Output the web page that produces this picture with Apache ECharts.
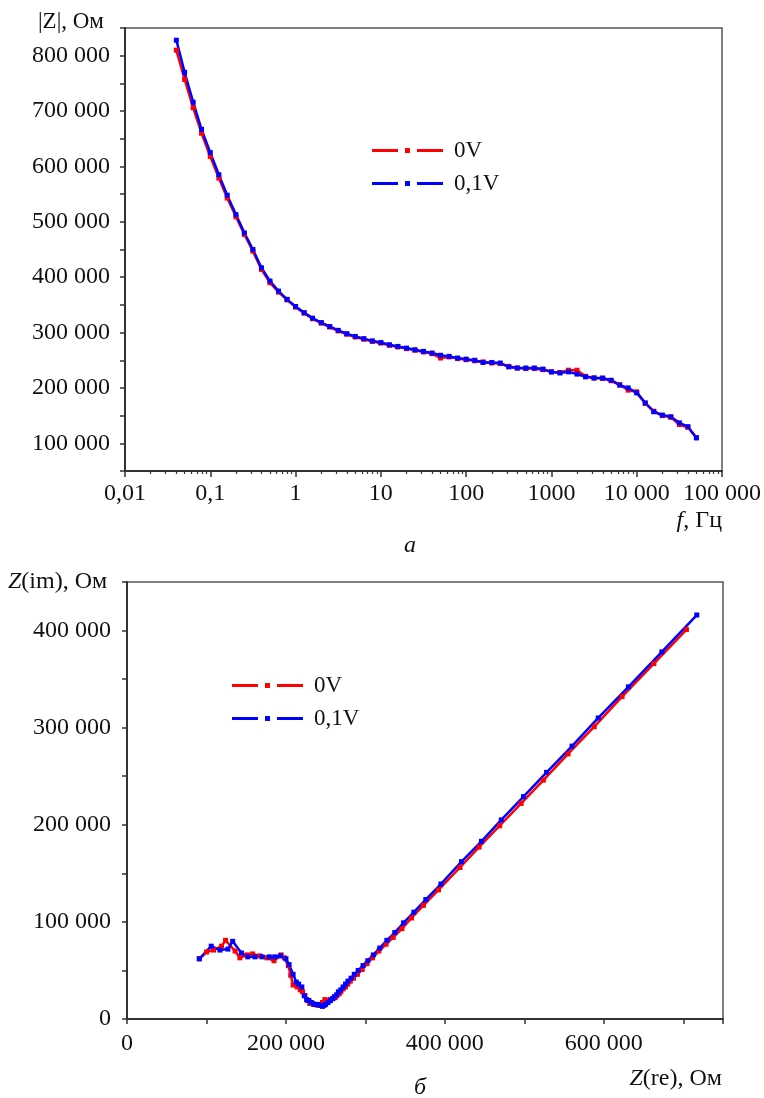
<!DOCTYPE html>
<html><head><meta charset="utf-8">
<script src="https://cdn.jsdelivr.net/npm/echarts@6/dist/echarts.min.js"></script>
<style>html,body{margin:0;padding:0;background:#fff}#c{width:764px;height:1098px}</style>
</head><body><div id="c"></div>
<script>
// ---- Chart (a): |Z| vs frequency (Hz), values in kOhm ----
const freqHz = [0.04,0.05,0.063,0.079,0.1,0.126,0.158,0.2,0.251,0.316,0.398,0.501,0.631,0.794,
  1,1.26,1.58,2,2.51,3.16,3.98,5.01,6.31,7.94,
  10,12.6,15.8,20,25.1,31.6,39.8,50.1,63.1,79.4,
  100,126,158,200,251,316,398,501,631,794,
  1000,1259,1585,1995,2512,3162,3981,5012,6310,7943,
  10000,12589,15849,19953,25119,31623,39811,50119];
const absZ_0V = [810,757,706,660,618,579,543,509,477,447,414,390,373,359,
  346,335,325,317,310,303,297,292,288,284,
  281,277,274,271,268,265,262,254,256,253,
  251,249,247,245,244,239,236,235,235,233,
  229,228,232,232,221,218,217,213,206,196,
  193,172,158,150,147,134,129,110];
const absZ_01V = [828,770,716,667,625,585,548,513,480,450,417,393,375,360,
  347,336,326,318,311,304,298,293,289,285,
  282,278,275,272,269,266,263,259,257,254,
  252,250,246,246,245,238,236,236,236,234,
  229,227,229,225,220,218,218,214,205,200,
  191,173,157,151,148,137,130,110];
// ---- Chart (б): Nyquist, values in kOhm ----
const zRe_0V = [704,663,623,588,555,524,496,469,443,419,392,373,358,346,
  335,326,317,309,302,296,290,285,281,278,
  275,272,269,267,264,262,259,256,252,249,
  246,243,240,237,234,230,227,224,221,218,
  214,209,206,203,198,194,185,176,167,158,
  151,142,136,124,119,109,100,91];
const zIm_0V = [401,366,332,301,273,246,222,199,177,156,133,117,104,93,
  84,77,70,63,57,51,46,42,39,36,
  33,31,28,26,24,22,21,20,19,20,
  17,15,14,15,16,16,19,24,28,30,
  33,35,45,55,63,66,60,63,65,67,
  66,63,70,81,75,71,69,62];
const zRe_01V = [717,673,631,593,560,528,499,471,446,421,395,376,361,348,
  337,327,318,310,303,297,291,286,282,278,
  275,272,269,266,264,261,259,256,253,250,
  248,246,243,240,238,235,232,229,226,223,
  220,216,213,209,204,200,193,186,179,170,
  161,152,144,133,127,117,106,91];
const zIm_01V = [416,378,342,310,281,254,229,205,183,162,139,123,110,99,
  89,81,73,66,60,55,50,46,42,39,
  36,33,30,28,25,23,21,19,17,15,
  14,13,14,15,15,15,17,19,20,24,
  33,36,38,46,56,62,65,64,64,64,
  64,64,68,80,72,71,75,62];
// tick labels
const freqTickLabels = ['0,01','0,1','1','10','100','1000','10 000','100 000'];
const seriesNames = ['0V','0,1V'];
const K = 1000;

const FONT = '"Liberation Serif", "Times New Roman", serif';
const RED = '#ff0000', BLUE = '#0000ff';
const FS = 24;
const fmtSpace = v => v === 0 ? '0' : String(v).replace(/\B(?=(\d{3})+(?!\d))/g, ' ');

// minor ticks of the log axis (positions in decades)
const minorLogTicks = [];
for (let d = -2; d < 5; d++) for (let m = 2; m <= 9; m++) minorLogTicks.push(d + Math.log10(m));

const dashDot = 'path://M0,1h26v3H0z M33,0h5v5h-5z M45,1h26v3h-26z';
const axisLineStyle = { color: '#333', width: 2 };
const labelStyle = { fontFamily: FONT, fontSize: FS, color: '#111' };
const legendText = { fontFamily: FONT, fontSize: 23, color: '#111', padding: [0, 0, 0, 6] };

const chart = echarts.init(document.getElementById('c'), null, { renderer: 'canvas' });
chart.setOption({
  animation: false,
  backgroundColor: '#fff',
  grid: [
    { left: 125, right: 40, top: 28, bottom: 627, show: true, borderColor: '#555', borderWidth: 1.5, backgroundColor: 'transparent' },
    { left: 127, right: 41, top: 582, bottom: 79, show: true, borderColor: '#555', borderWidth: 1.5, backgroundColor: 'transparent' }
  ],
  legend: [
    { left: 372, top: 139, padding: 0, orient: 'vertical', itemWidth: 71, itemHeight: 5, itemGap: 10, icon: dashDot,
      textStyle: legendText, data: seriesNames },
    { left: 232, top: 674, padding: 0, orient: 'vertical', itemWidth: 71, itemHeight: 5, itemGap: 10, icon: dashDot,
      textStyle: legendText, data: seriesNames }
  ],
  xAxis: [
    { gridIndex: 0, type: 'log', logBase: 10, min: 0.01, max: 100000, position: 'bottom',
      axisLine: { onZero: false, lineStyle: axisLineStyle }, axisTick: { length: 6, lineStyle: { color: '#333', width: 1.5 } },
      splitLine: { show: false },
      axisLabel: Object.assign({ margin: 11, formatter: v => freqTickLabels[Math.round(Math.log10(v)) + 2] }, labelStyle) },
    { gridIndex: 0, type: 'value', min: -2, max: 5, position: 'bottom', offset: 0,
      axisLine: { show: false, onZero: false }, axisLabel: { show: false }, splitLine: { show: false },
      axisTick: { show: true, customValues: minorLogTicks, length: 3, lineStyle: { color: '#333', width: 1.2 } } },
    { gridIndex: 1, type: 'value', min: 0, max: 750000, interval: 100000, position: 'bottom',
      axisLine: { onZero: false, lineStyle: axisLineStyle }, axisTick: { length: 5, lineStyle: { color: '#333', width: 1.5 } },
      splitLine: { show: false },
      axisLabel: Object.assign({ margin: 13, formatter: v => (v % 200000 === 0 ? fmtSpace(v) : '') }, labelStyle) }
  ],
  yAxis: [
    { gridIndex: 0, type: 'value', min: 50000, max: 850000, interval: 50000,
      axisLine: { onZero: false, lineStyle: axisLineStyle }, axisTick: { length: 5, lineStyle: { color: '#333', width: 1.5 } },
      splitLine: { show: false },
      axisLabel: Object.assign({ margin: 15, formatter: v => (v % 100000 === 0 ? fmtSpace(v) : '') }, labelStyle) },
    { gridIndex: 1, type: 'value', min: 0, max: 450000, interval: 50000,
      axisLine: { onZero: false, lineStyle: axisLineStyle }, axisTick: { length: 5, lineStyle: { color: '#333', width: 1.5 } },
      splitLine: { show: false },
      axisLabel: Object.assign({ margin: 16, formatter: v => (v % 100000 === 0 ? fmtSpace(v) : '') }, labelStyle) }
  ],
  series: [
    { name: '0V', type: 'line', xAxisIndex: 0, yAxisIndex: 0, symbol: 'rect', symbolSize: 5,
      lineStyle: { color: RED, width: 2.5 }, itemStyle: { color: RED },
      data: freqHz.map((f, i) => [f, absZ_0V[i] * K]) },
    { name: '0,1V', type: 'line', xAxisIndex: 0, yAxisIndex: 0, symbol: 'rect', symbolSize: 5,
      lineStyle: { color: BLUE, width: 2.5 }, itemStyle: { color: BLUE },
      data: freqHz.map((f, i) => [f, absZ_01V[i] * K]) },
    { name: '0V', type: 'line', xAxisIndex: 2, yAxisIndex: 1, symbol: 'rect', symbolSize: 5,
      lineStyle: { color: RED, width: 2.5 }, itemStyle: { color: RED },
      data: zRe_0V.map((r, i) => [r * K, zIm_0V[i] * K]) },
    { name: '0,1V', type: 'line', xAxisIndex: 2, yAxisIndex: 1, symbol: 'rect', symbolSize: 5,
      lineStyle: { color: BLUE, width: 2.5 }, itemStyle: { color: BLUE },
      data: zRe_01V.map((r, i) => [r * K, zIm_01V[i] * K]) }
  ],
  graphic: [
    { type: 'text', x: 38, y: 22, style: { text: '|Z|, Ом', fontFamily: FONT, fontSize: 23, fill: '#111', verticalAlign: 'middle' } },
    { type: 'text', x: 722, y: 521, style: { text: '{i|f}, Гц', fontFamily: FONT, fontSize: FS, fill: '#111', align: 'right', verticalAlign: 'middle',
      rich: { i: { fontStyle: 'italic', fontFamily: FONT, fontSize: FS, fill: '#111' } } } },
    { type: 'text', x: 410, y: 546, style: { text: 'а', fontFamily: FONT, fontSize: FS, fontStyle: 'italic', fill: '#111', align: 'center', verticalAlign: 'middle' } },
    { type: 'text', x: 8, y: 582, style: { text: '{i|Z}(im), Ом', fontFamily: FONT, fontSize: FS, fill: '#111', verticalAlign: 'middle',
      rich: { i: { fontStyle: 'italic', fontFamily: FONT, fontSize: FS, fill: '#111' } } } },
    { type: 'text', x: 722, y: 1079, style: { text: '{i|Z}(re), Ом', fontFamily: FONT, fontSize: FS, fill: '#111', align: 'right', verticalAlign: 'middle',
      rich: { i: { fontStyle: 'italic', fontFamily: FONT, fontSize: FS, fill: '#111' } } } },
    { type: 'text', x: 420, y: 1088, style: { text: 'б', fontFamily: FONT, fontSize: FS, fontStyle: 'italic', fill: '#111', align: 'center', verticalAlign: 'middle' } }
  ]
});
</script></body></html>
